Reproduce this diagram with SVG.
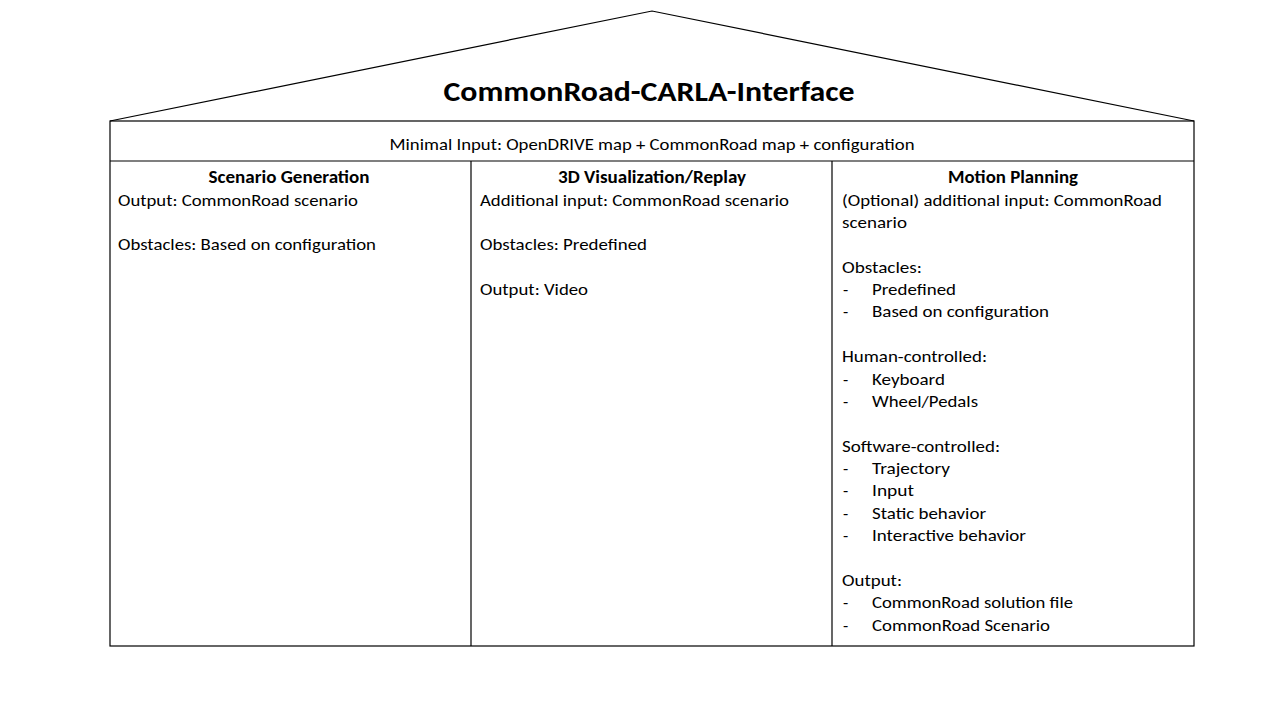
<svg xmlns="http://www.w3.org/2000/svg" width="1280" height="720" viewBox="0 0 1280 720">
<style>
  .ln{fill:none;stroke:#000;stroke-width:1.2}
  text{font-family:Carlito,Calibri,Lato,"Open Sans",sans-serif;fill:#000;font-size:17px}
  .b{font-weight:bold}
  .c{text-anchor:middle}
  .t{font-size:28px;font-weight:bold}
</style>
<rect width="1280" height="720" fill="#fff"/>
<g id="roof">
  <polyline class="ln" points="110,121 652,11 1194,121"/>
  <text class="t c" x="649" y="101" textLength="411" lengthAdjust="spacingAndGlyphs">CommonRoad-CARLA-Interface</text>
</g>
<g id="frame">
  <rect class="ln" x="110" y="121" width="1084" height="525"/>
  <line class="ln" x1="110" y1="161" x2="1194" y2="161"/>
  <line class="ln" x1="471" y1="161" x2="471" y2="646"/>
  <line class="ln" x1="832" y1="161" x2="832" y2="646"/>
</g>
<g id="input">
  <text class="c" x="652" y="150" font-size="16" textLength="525" lengthAdjust="spacingAndGlyphs">Minimal Input: OpenDRIVE map + CommonRoad map + configuration</text>
</g>
<g id="scenario-generation">
  <text class="b c" x="289" y="183" textLength="161" lengthAdjust="spacingAndGlyphs">Scenario Generation</text>
  <text x="118" y="205.5" textLength="240" lengthAdjust="spacingAndGlyphs">Output: CommonRoad scenario</text>
  <text x="118" y="250" textLength="258" lengthAdjust="spacingAndGlyphs">Obstacles: Based on configuration</text>
</g>
<g id="visualization">
  <text class="b c" x="652" y="183" textLength="188" lengthAdjust="spacingAndGlyphs">3D Visualization/Replay</text>
  <text x="480" y="205.5" textLength="309" lengthAdjust="spacingAndGlyphs">Additional input: CommonRoad scenario</text>
  <text x="480" y="250" textLength="167" lengthAdjust="spacingAndGlyphs">Obstacles: Predefined</text>
  <text x="480" y="295" textLength="108" lengthAdjust="spacingAndGlyphs">Output: Video</text>
</g>
<g id="motion-planning">
  <text class="b c" x="1013" y="183" textLength="130" lengthAdjust="spacingAndGlyphs">Motion Planning</text>
  <text x="842" y="205.5" textLength="320" lengthAdjust="spacingAndGlyphs">(Optional) additional input: CommonRoad</text>
  <text x="842" y="227.5" textLength="65" lengthAdjust="spacingAndGlyphs">scenario</text>
  <text x="842" y="272.5" textLength="80" lengthAdjust="spacingAndGlyphs">Obstacles:</text>
  <text x="843" y="295">-</text><text x="872" y="295" textLength="84" lengthAdjust="spacingAndGlyphs">Predefined</text>
  <text x="843" y="317">-</text><text x="872" y="317" textLength="177" lengthAdjust="spacingAndGlyphs">Based on configuration</text>
  <text x="842" y="362" textLength="145" lengthAdjust="spacingAndGlyphs">Human-controlled:</text>
  <text x="843" y="384.5">-</text><text x="872" y="384.5" textLength="73" lengthAdjust="spacingAndGlyphs">Keyboard</text>
  <text x="843" y="406.5">-</text><text x="872" y="406.5" textLength="106" lengthAdjust="spacingAndGlyphs">Wheel/Pedals</text>
  <text x="842" y="451.5" textLength="158" lengthAdjust="spacingAndGlyphs">Software-controlled:</text>
  <text x="843" y="474">-</text><text x="872" y="474" textLength="78" lengthAdjust="spacingAndGlyphs">Trajectory</text>
  <text x="843" y="496">-</text><text x="872" y="496" textLength="42" lengthAdjust="spacingAndGlyphs">Input</text>
  <text x="843" y="518.5">-</text><text x="872" y="518.5" textLength="114" lengthAdjust="spacingAndGlyphs">Static behavior</text>
  <text x="843" y="541">-</text><text x="872" y="541" textLength="154" lengthAdjust="spacingAndGlyphs">Interactive behavior</text>
  <text x="842" y="586" textLength="60" lengthAdjust="spacingAndGlyphs">Output:</text>
  <text x="843" y="608">-</text><text x="872" y="608" textLength="201" lengthAdjust="spacingAndGlyphs">CommonRoad solution file</text>
  <text x="843" y="630.5">-</text><text x="872" y="630.5" textLength="178" lengthAdjust="spacingAndGlyphs">CommonRoad Scenario</text>
</g>
</svg>
